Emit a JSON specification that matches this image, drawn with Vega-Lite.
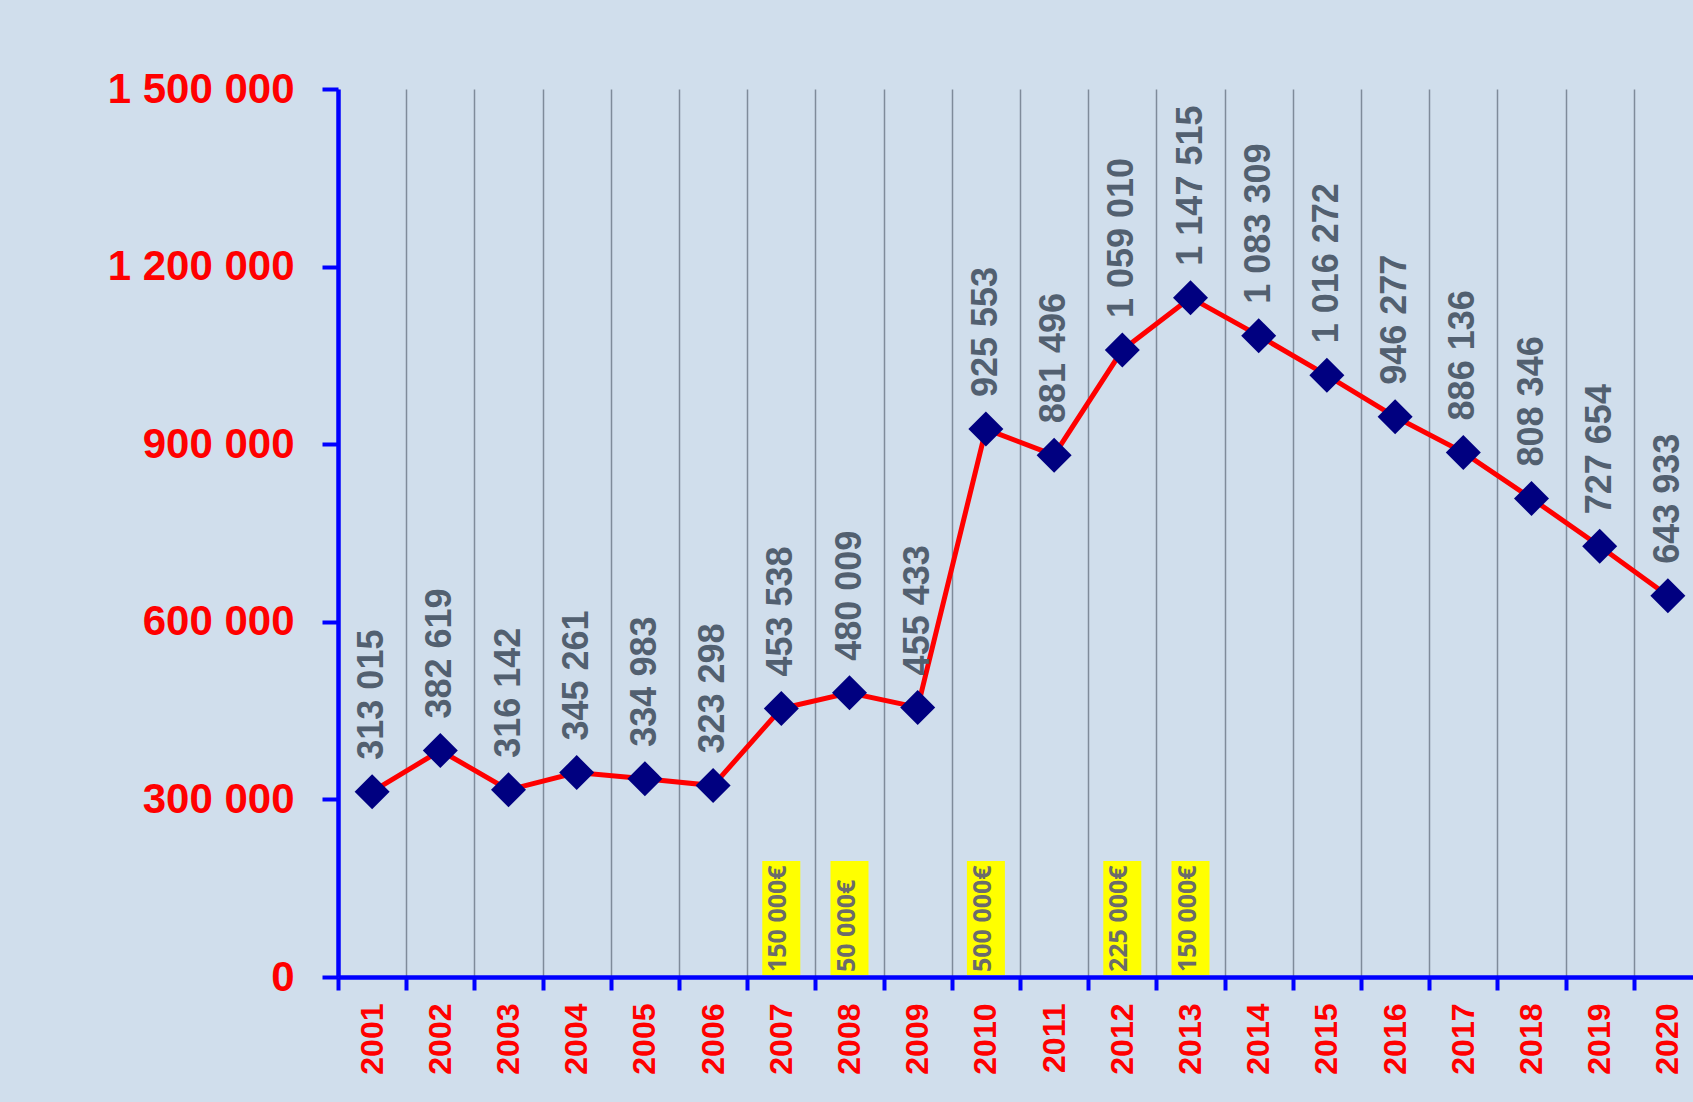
{
  "$schema": "https://vega.github.io/schema/vega-lite/v6.json",
  "autosize": {"type": "none"},
  "width": 1355,
  "height": 888,
  "padding": {"left": 338, "top": 89, "right": 0, "bottom": 125},
  "background": "#D0DEEC",
  "config": {
    "view": {"stroke": null},
    "locale": {"number": {"decimal": ",", "thousands": " ", "grouping": [3], "currency": ["", "€"]}}
  },
  "datasets": {
    "main": [
      {"year": "2001", "value": 313015},
      {"year": "2002", "value": 382619},
      {"year": "2003", "value": 316142},
      {"year": "2004", "value": 345261},
      {"year": "2005", "value": 334983},
      {"year": "2006", "value": 323298},
      {"year": "2007", "value": 453538},
      {"year": "2008", "value": 480009},
      {"year": "2009", "value": 455433},
      {"year": "2010", "value": 925553},
      {"year": "2011", "value": 881496},
      {"year": "2012", "value": 1059010},
      {"year": "2013", "value": 1147515},
      {"year": "2014", "value": 1083309},
      {"year": "2015", "value": 1016272},
      {"year": "2016", "value": 946277},
      {"year": "2017", "value": 886136},
      {"year": "2018", "value": 808346},
      {"year": "2019", "value": 727654},
      {"year": "2020", "value": 643933}
    ],
    "notes": [
      {"year": "2007", "note": "150 000€"},
      {"year": "2008", "note": "50 000€"},
      {"year": "2010", "note": "500 000€"},
      {"year": "2012", "note": "225 000€"},
      {"year": "2013", "note": "150 000€"}
    ]
  },
  "encoding": {
    "x": {
      "field": "year",
      "type": "ordinal",
      "scale": {"type": "band", "paddingInner": 0, "paddingOuter": 0, "range": [0, 1364]},
      "axis": {
        "title": null,
        "tickBand": "extent",
        "grid": true,
        "gridColor": "#7F8B9A",
        "gridWidth": 1.5,
        "domainColor": "#0000FF",
        "domainWidth": 4.5,
        "tickColor": "#0000FF",
        "tickWidth": 4,
        "tickSize": 13,
        "labelAngle": 270,
        "labelAlign": "right",
        "labelBaseline": "middle",
        "labelColor": "#FF0000",
        "labelFont": "Liberation Sans",
        "labelFontWeight": "bold",
        "labelFontSize": 32,
        "labelPadding": 13,
        "labelLimit": 0
      }
    }
  },
  "layer": [
    {
      "data": {"name": "notes"},
      "mark": {"type": "bar", "color": "#FFFF00", "size": 38},
      "encoding": {
        "y": {"datum": 196000, "type": "quantitative", "scale": {"domain": [0, 1500000], "nice": false}},
        "y2": {"datum": 3500}
      }
    },
    {
      "data": {"name": "notes"},
      "mark": {"type": "text", "angle": 270, "align": "left", "baseline": "middle", "dx": 5, "dy": -3, "font": "Open Sans", "fontWeight": "bold", "fontSize": 25, "color": "#6B6B6B"},
      "encoding": {
        "y": {"datum": 0, "type": "quantitative"},
        "text": {"field": "note", "type": "nominal"}
      }
    },
    {
      "data": {"name": "main"},
      "mark": {"type": "line", "color": "#FF0000", "strokeWidth": 5},
      "encoding": {
        "y": {
          "field": "value",
          "type": "quantitative",
          "scale": {"domain": [0, 1500000], "nice": false},
          "axis": {
            "title": null,
            "grid": false,
            "values": [0, 300000, 600000, 900000, 1200000, 1500000],
            "format": ",d",
            "domainColor": "#0000FF",
            "domainWidth": 4.5,
            "tickColor": "#0000FF",
            "tickWidth": 4,
            "tickSize": 16,
            "labelColor": "#FF0000",
            "labelFont": "Liberation Sans",
            "labelFontWeight": "bold",
            "labelFontSize": 42,
            "labelPadding": 28,
            "labelLimit": 0
          }
        }
      }
    },
    {
      "data": {"name": "main"},
      "mark": {"type": "point", "shape": "diamond", "filled": true, "color": "#000080", "opacity": 1, "size": 1225},
      "encoding": {
        "y": {"field": "value", "type": "quantitative"}
      }
    },
    {
      "data": {"name": "main"},
      "mark": {"type": "text", "angle": 270, "align": "left", "baseline": "middle", "dx": 32, "dy": 0, "font": "Liberation Sans", "fontWeight": "bold", "fontSize": 36, "color": "#526070", "limit": 0},
      "encoding": {
        "y": {"field": "value", "type": "quantitative"},
        "text": {"field": "value", "type": "quantitative", "format": ",d"}
      }
    }
  ]
}
